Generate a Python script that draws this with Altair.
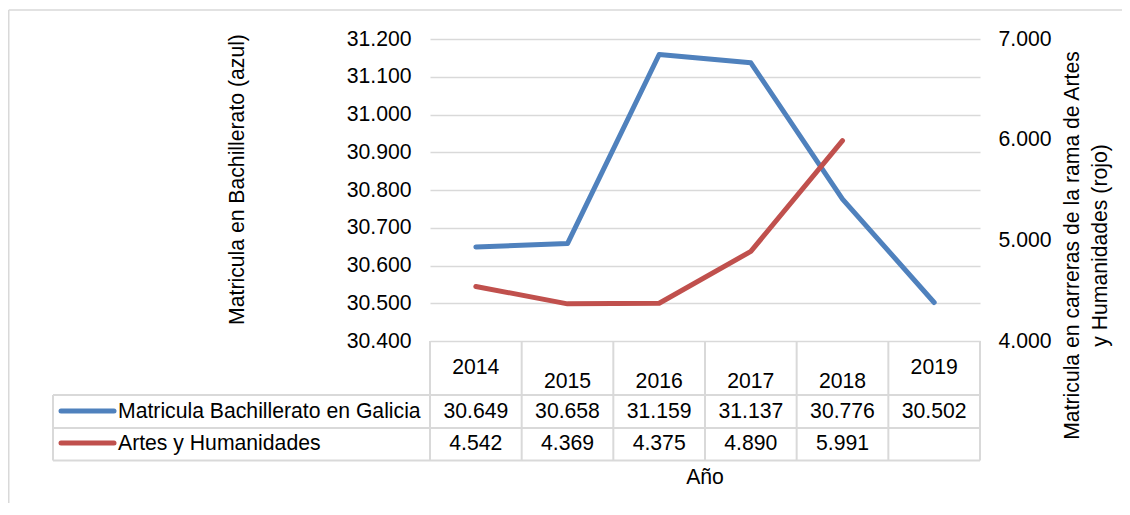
import altair as alt
import pandas as pd

# ---- data ----
years = ["2014", "2015", "2016", "2017", "2018", "2019"]
bach = [30649, 30658, 31159, 31137, 30776, 30502]
artes = [4542, 4369, 4375, 4890, 5991, None]
left_ticks = [30400, 30500, 30600, 30700, 30800, 30900, 31000, 31100, 31200]
right_ticks = [4000, 5000, 6000, 7000]
series_names = ["Matricula Bachillerato en Galicia", "Artes y Humanidades"]
colors = ["#4F81BD", "#C0504D"]
high_header_years = ["2014", "2019"]
left_title = "Matricula en Bachillerato (azul)"
right_title = ["Matricula en carreras de la rama de Artes", "y Humanidades (rojo)"]
x_title = "Año"

df = pd.DataFrame({"Year": years, "Bach": bach, "Artes": artes})
one = pd.DataFrame({"k": [0]})

W, H = 550, 302
FONT = "Liberation Sans"
FS = 21.2
GRID = "#D9D9D9"
TXT = "#000000"
fmt_axis = "replace(format(datum.value, ','), ',', '.')"

xenc = alt.X("Year:N", scale=alt.Scale(type="point", padding=0.5, domain=years), axis=None)

blue = alt.Chart(df).mark_line(color=colors[0], strokeWidth=5, strokeCap="round", strokeJoin="round").encode(
    x=xenc,
    y=alt.Y("Bach:Q", scale=alt.Scale(domain=[30400, 31200], nice=False, zero=False),
            axis=alt.Axis(orient="left", values=left_ticks, labelExpr=fmt_axis, grid=True,
                          gridColor=GRID, gridWidth=1.5, domain=False, ticks=False,
                          labelPadding=19, labelFontSize=FS, labelFont=FONT, labelColor=TXT,
                          title=left_title, titleFont=FONT, titleFontSize=FS,
                          titleFontWeight="normal", titleColor=TXT, titleAngle=270,
                          titleX=-193, titleY=140, titleAlign="center", titleBaseline="middle")),
)

red = alt.Chart(df).transform_filter("isValid(datum.Artes)").mark_line(
    color=colors[1], strokeWidth=5, strokeCap="round", strokeJoin="round").encode(
    x=xenc,
    y=alt.Y("Artes:Q", scale=alt.Scale(domain=[4000, 7000], nice=False, zero=False),
            axis=alt.Axis(orient="right", values=right_ticks, labelExpr=fmt_axis, grid=False,
                          domain=False, ticks=False, labelPadding=18, labelFontSize=FS,
                          labelFont=FONT, labelColor=TXT,
                          title=right_title, titleFont=FONT, titleFontSize=FS,
                          titleFontWeight="normal", titleColor=TXT, titleAngle=270,
                          titleX=92, titleY=206, titleAlign="center", titleBaseline="middle",
                          titleLineHeight=28)),
)

hdr_hi = alt.Chart(df).transform_filter(
    alt.FieldOneOfPredicate(field="Year", oneOf=high_header_years)
).mark_text(font=FONT, fontSize=FS, color=TXT, baseline="middle").encode(
    x=xenc, y=alt.value(329), text="Year:N")
hdr_lo = alt.Chart(df).transform_filter(
    ~alt.FieldOneOfPredicate(field="Year", oneOf=high_header_years)
).mark_text(font=FONT, fontSize=FS, color=TXT, baseline="middle").encode(
    x=xenc, y=alt.value(342.5), text="Year:N")

row1 = alt.Chart(df).transform_calculate(
    lab="replace(format(datum.Bach, ','), ',', '.')"
).mark_text(font=FONT, fontSize=FS, color=TXT, baseline="middle").encode(
    x=xenc, y=alt.value(372.5), text="lab:N")
row2 = alt.Chart(df).transform_filter("isValid(datum.Artes)").transform_calculate(
    lab="replace(format(datum.Artes, ','), ',', '.')"
).mark_text(font=FONT, fontSize=FS, color=TXT, baseline="middle").encode(
    x=xenc, y=alt.value(404.7), text="lab:N")

def hrule(x1, x2, y, color=GRID, w=2):
    return alt.Chart(one).mark_rule(color=color, strokeWidth=w).encode(
        x=alt.value(x1), x2=alt.value(x2), y=alt.value(y))

def vrule(x, y1, y2, color=GRID, w=2):
    return alt.Chart(one).mark_rule(color=color, strokeWidth=w).encode(
        x=alt.value(x), y=alt.value(y1), y2=alt.value(y2))

table_rules = [
    hrule(-377, W, 356), hrule(-377, W, 389), hrule(-377, W, 421.5),
    vrule(-377, 356, 421.5), vrule(0, H, 421.5),
]
col_seps = alt.Chart(df).mark_rule(color=GRID, strokeWidth=2, xOffset=W / len(years) / 2).encode(
    x=xenc, y=alt.value(H), y2=alt.value(421.5))

legend_sw = [
    alt.Chart(one).mark_rule(color=colors[i], strokeWidth=5, strokeCap="round").encode(
        x=alt.value(-369), x2=alt.value(-316), y=alt.value(yy))
    for i, yy in enumerate([372, 404])
]
legend_txt = [
    alt.Chart(pd.DataFrame({"name": [series_names[i]]})).mark_text(
        font=FONT, fontSize=FS, color=TXT, baseline="middle", align="left").encode(
        x=alt.value(-312), y=alt.value(yy), text="name:N")
    for i, yy in enumerate([372.5, 404.7])
]

xlab = alt.Chart(pd.DataFrame({"t": [x_title]})).mark_text(
    font=FONT, fontSize=FS, color=TXT, baseline="middle").encode(
    x=alt.value(W / 2), y=alt.value(439), text="t:N")

border = [hrule(-421.25, 720, -29, color=GRID, w=1.5), vrule(-421.25, -29, 470, color=GRID, w=1.5)]

chart = alt.layer(
    blue, red, *border, *table_rules, col_seps, hdr_hi, hdr_lo, row1, row2,
    *legend_sw, *legend_txt, xlab,
).resolve_scale(y="independent").properties(
    width=W, height=H,
    padding={"left": 422, "top": 31, "right": 142, "bottom": 162},
    autosize=alt.AutoSizeParams(type="none"),
).configure_view(stroke=None)

chart.save("out.html", embed_options={"renderer": "svg", "actions": False})
